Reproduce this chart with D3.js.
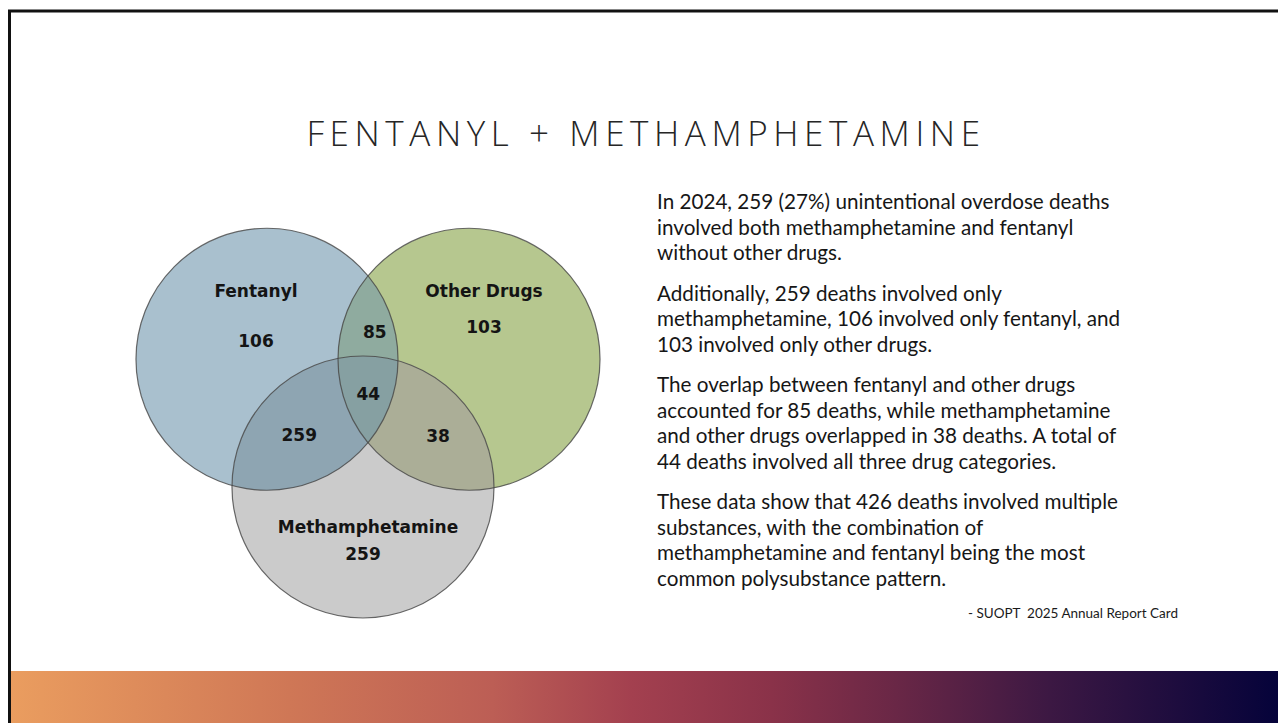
<!DOCTYPE html>
<html>
<head>
<meta charset="utf-8">
<script src="https://cdn.jsdelivr.net/npm/d3@7"></script>
<style>
  html, body { margin: 0; padding: 0; background: #ffffff; overflow: hidden; }
  svg { display: block; }
</style>
</head>
<body>
<svg id="chart" width="1278" height="723"></svg>
<script>
// ---------------- DATA ----------------
const title = "FENTANYL + METHAMPHETAMINE";
const setNames = ["Fentanyl", "Other Drugs", "Methamphetamine"];
const setOnlyValues = [106, 103, 259];
const pairSets = [["Fentanyl", "Other Drugs"], ["Fentanyl", "Methamphetamine"], ["Other Drugs", "Methamphetamine"]];
const pairValues = [85, 259, 38];
const allThreeValue = 44;
const paragraphs = [
  ["In 2024, 259 (27%) unintentional overdose deaths",
   "involved both methamphetamine and fentanyl",
   "without other drugs."],
  ["Additionally, 259 deaths involved only",
   "methamphetamine, 106 involved only fentanyl, and",
   "103 involved only other drugs."],
  ["The overlap between fentanyl and other drugs",
   "accounted for 85 deaths, while methamphetamine",
   "and other drugs overlapped in 38 deaths. A total of",
   "44 deaths involved all three drug categories."],
  ["These data show that 426 deaths involved multiple",
   "substances, with the combination of",
   "methamphetamine and fentanyl being the most",
   "common polysubstance pattern."]
];
const sourceText = "- SUOPT  2025 Annual Report Card";

// ---------------- LAYOUT / STYLE ----------------
const W = 1278, H = 723;
const svg = d3.select("#chart");

// frame
svg.append("rect").attr("x", 9.5).attr("y", 11).attr("width", W + 20).attr("height", H + 20)
  .attr("fill", "none").attr("stroke", "#111").attr("stroke-width", 3);

// bottom gradient band
const defs = svg.append("defs");
const grad = defs.append("linearGradient").attr("id", "band").attr("x1", "0").attr("x2", "1").attr("y1", "0").attr("y2", "0");
[[0, "#ea9d5f"], [0.22, "#cf7756"], [0.38, "#bc5e55"], [0.49, "#a3404f"], [0.6, "#8a3249"], [0.7, "#692746"], [0.82, "#3c1843"], [1, "#05033a"]]
  .forEach(([o, c]) => grad.append("stop").attr("offset", o).attr("stop-color", c));
svg.append("rect").attr("x", 11).attr("y", 671).attr("width", W - 11).attr("height", H - 671).attr("fill", "url(#band)");

// title
svg.append("text").attr("x", 646).attr("y", 146).attr("text-anchor", "middle")
  .attr("font-family", "'Open Sans', sans-serif").attr("font-weight", 300)
  .attr("font-size", 35).attr("letter-spacing", 5.6).attr("fill", "#262626")
  .text(title);

// ---------------- VENN ----------------
const xS = d3.scaleLinear().domain([0, 1]).range([136, 600]);
const yS = d3.scaleLinear().domain([0, 1]).range([228, 618]);
const R = 131;
const centersUnit = {
  "Fentanyl": [0.2823, 0.3365],
  "Other Drugs": [0.7177, 0.3365],
  "Methamphetamine": [0.4892, 0.6641]
};
const circles = setNames.map(n => ({ name: n, cx: xS(centersUnit[n][0]), cy: yS(centersUnit[n][1]) }));
const byName = Object.fromEntries(circles.map(c => [c.name, c]));

const baseColor = { "Fentanyl": "#a9c0ce", "Other Drugs": "#b6c78f", "Methamphetamine": "#cbcbcb" };
const pairColor = ["#8fab9f", "#8ea5b2", "#abae97"];
const tripleColor = "#86a0a2";

circles.forEach(c => {
  defs.append("clipPath").attr("id", "clip-" + c.name.replace(/\s/g, ""))
    .append("circle").attr("cx", c.cx).attr("cy", c.cy).attr("r", R);
});
const cid = n => "url(#clip-" + n.replace(/\s/g, "") + ")";

const venn = svg.append("g");
venn.selectAll("circle.base").data(circles).join("circle").attr("class", "base")
  .attr("cx", d => d.cx).attr("cy", d => d.cy).attr("r", R)
  .attr("fill", d => baseColor[d.name]);

pairSets.forEach((p, i) => {
  const b = byName[p[1]];
  venn.append("g").attr("clip-path", cid(p[0]))
    .append("circle").attr("cx", b.cx).attr("cy", b.cy).attr("r", R).attr("fill", pairColor[i]);
});
{
  const [a, b, c] = setNames;
  venn.append("g").attr("clip-path", cid(a))
    .append("g").attr("clip-path", cid(b))
    .append("circle").attr("cx", byName[c].cx).attr("cy", byName[c].cy).attr("r", R).attr("fill", tripleColor);
}
venn.selectAll("circle.edge").data(circles).join("circle").attr("class", "edge")
  .attr("cx", d => d.cx).attr("cy", d => d.cy).attr("r", R)
  .attr("fill", "none").attr("stroke", "#454545").attr("stroke-opacity", 0.8).attr("stroke-width", 1.2);

// labels
const labelFont = "'DejaVu Sans', Verdana, sans-serif";
const lbl = (x, y, t) => venn.append("text").attr("x", x).attr("y", y).attr("text-anchor", "middle")
  .attr("font-family", labelFont).attr("font-weight", "bold").attr("font-size", 17).attr("fill", "#141414").text(t);

const nameOffset = { "Fentanyl": [-11, -62], "Other Drugs": [15, -62], "Methamphetamine": [5, 46] };
const onlyOffset = { "Fentanyl": [-11, -12], "Other Drugs": [15, -26], "Methamphetamine": [0, 73] };
setNames.forEach((n, i) => {
  const c = byName[n];
  lbl(c.cx + nameOffset[n][0], c.cy + nameOffset[n][1], n);
  lbl(c.cx + onlyOffset[n][0], c.cy + onlyOffset[n][1], setOnlyValues[i]);
});
// pair labels: midpoint of the two centers, pushed away from the third circle
const pairPush = [21, 17, 24];
const pairShift = [[6, 0], [0, 11], [0, 9]];
pairSets.forEach((p, i) => {
  const a = byName[p[0]], b = byName[p[1]];
  const third = circles.find(c => !p.includes(c.name));
  const mx = (a.cx + b.cx) / 2, my = (a.cy + b.cy) / 2;
  const dx = mx - third.cx, dy = my - third.cy, L = Math.hypot(dx, dy);
  lbl(mx + dx / L * pairPush[i] + pairShift[i][0], my + dy / L * pairPush[i] + pairShift[i][1], pairValues[i]);
});
{
  const gx = d3.mean(circles, c => c.cx), gy = d3.mean(circles, c => c.cy);
  lbl(gx + 2, gy - 2, allThreeValue);
}

// ---------------- TEXT ----------------
const bodyFont = "Lato, 'Open Sans', sans-serif";
const tx = 657;
const lineH = 25.5, paraGap = 15;
const bodyG = svg.append("g");
const probe = bodyG.append("text").attr("font-family", bodyFont).attr("font-size", 20).text(paragraphs[0][0]);
const fs = 20 * 453 / probe.node().getComputedTextLength();
probe.remove();
let y = 209;
paragraphs.forEach(para => {
  para.forEach(line => {
    bodyG.append("text").attr("x", tx).attr("y", y).attr("font-family", bodyFont)
      .attr("font-size", fs).attr("fill", "#161616").text(line);
    y += lineH;
  });
  y += paraGap;
});
svg.append("text").attr("x", 1178).attr("y", 618).attr("text-anchor", "end")
  .attr("font-family", bodyFont).attr("font-size", 13.5).attr("fill", "#1a1a1a")
  .style("white-space", "pre").text(sourceText);
</script>
</body>
</html>
